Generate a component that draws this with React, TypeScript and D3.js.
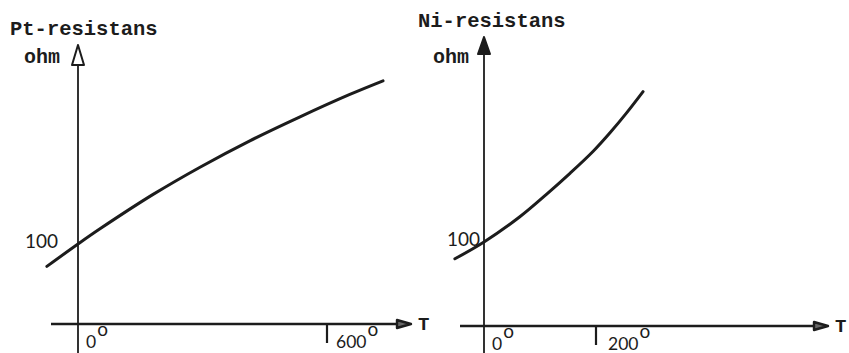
import React from "react";
import * as d3 from "d3";

// Platinum sensor: temperature (°C) and resistance (ohm)
const ptTemps = [-75, 0, 53, 181, 294, 414, 535, 655, 735];
const ptOhms = [72, 100, 119, 162, 196, 229, 259, 287, 304];

// Nickel sensor: temperature (°C) and resistance (ohm)
const niTemps = [-52, 0, 64, 112, 154, 195, 225, 255, 284];
const niOhms = [80, 100, 130, 157, 182, 208, 230, 254, 279];

const ptTicks = [0, 600];
const niTicks = [0, 200];
const ohmTick = 100;

const ptTitle = "Pt-resistans";
const niTitle = "Ni-resistans";
const unitLabel = "ohm";
const axisLabel = "T";

const W = 849;
const H = 353;
const INK = "#1c1c1c";
const MONO = "'Liberation Mono', 'DejaVu Sans Mono', monospace";
const SANS = "Lato, 'Open Sans', sans-serif";

type PanelProps = {
  temps: number[];
  ohms: number[];
  ticks: number[];
  title: string;
  xRange: [number, number];
  xDomain: [number, number];
  yZero: number;
  y100: number;
  axisStart: number;
  arrowTip: number;
  yArrowTip: number;
  yArrowBase: number;
  filledArrow: boolean;
  titleX: number;
  titleY: number;
  unitX: number;
  labelX: number;
  tickLen: number;
  ohmGap: number;
  tickGap: number;
};

function Panel(p: PanelProps) {
  const x = d3.scaleLinear().domain(p.xDomain).range(p.xRange);
  const y = d3.scaleLinear().domain([0, ohmTick]).range([p.yZero, p.y100]);
  const x0 = x(0);
  const pts = p.temps.map((t, i) => [t, p.ohms[i]] as [number, number]);
  const line = d3
    .line<[number, number]>()
    .x((d) => x(d[0]))
    .y((d) => y(d[1]))
    .curve(d3.curveCatmullRom.alpha(0.5));

  const ax = p.yZero;
  const tipX = p.arrowTip;
  const xArrow = `M${tipX},${ax} L${tipX - 14},${ax - 4} L${tipX - 14},${ax + 4} Z`;
  const yArrow = `M${x0},${p.yArrowTip} L${x0 - 6},${p.yArrowBase} L${x0 + 6},${p.yArrowBase} Z`;

  return (
    <g>
      <text x={p.titleX} y={p.titleY} fontFamily={MONO} fontWeight="bold" fontSize={20.5} fill={INK}>
        {p.title}
      </text>
      <text x={p.unitX} y={63} fontFamily={MONO} fontWeight="bold" fontSize={20} fill={INK}>
        {unitLabel}
      </text>

      {/* vertical axis */}
      <line x1={x0} x2={x0} y1={p.yArrowBase} y2={H} stroke={INK} strokeWidth={1.8} />
      <path
        d={yArrow}
        fill={p.filledArrow ? INK : "#fff"}
        stroke={INK}
        strokeWidth={2}
        strokeLinejoin="round"
      />

      {/* horizontal axis */}
      <line x1={p.axisStart} x2={tipX - 12} y1={ax} y2={ax} stroke={INK} strokeWidth={2.4} />
      <path d={xArrow} fill="#666" stroke={INK} strokeWidth={2.4} strokeLinejoin="round" />
      <text x={p.labelX} y={ax + 6} fontFamily={MONO} fontWeight="bold" fontSize={19} fill={INK}>
        {axisLabel}
      </text>

      {/* temperature ticks */}
      {p.ticks.map((t) => (
        <g key={t}>
          {t !== 0 && (
            <line x1={x(t)} x2={x(t)} y1={ax} y2={ax + p.tickLen} stroke={INK} strokeWidth={2.2} />
          )}
          <text x={x(t) + (t === 0 ? 8 : p.tickGap)} y={ax + 24} fontFamily={SANS} fontSize={17.5} fill={INK}>
            {t}
            <tspan fontSize={19} dx={1} dy={-12}>
              o
            </tspan>
          </text>
        </g>
      ))}

      {/* 100 ohm label */}
      <text x={x0 - p.ohmGap} y={y(ohmTick) + 4} textAnchor="end" fontFamily={SANS} fontSize={19} fill={INK}>
        {ohmTick}
      </text>

      <path d={line(pts) ?? ""} fill="none" stroke={INK} strokeWidth={3} strokeLinecap="round" />
    </g>
  );
}

export default function App() {
  return (
    <svg
      width={W}
      height={H}
      viewBox={`0 0 ${W} ${H}`}
      style={{ position: "absolute", left: 0, top: 0, background: "#fff" }}
    >
      <rect width={W} height={H} fill="#fff" />
      <Panel
        temps={ptTemps}
        ohms={ptOhms}
        ticks={ptTicks}
        title={ptTitle}
        xDomain={[0, 600]}
        xRange={[78, 327]}
        yZero={324}
        y100={244}
        axisStart={51}
        arrowTip={411}
        yArrowTip={45}
        yArrowBase={65}
        filledArrow={false}
        titleX={10}
        titleY={35}
        unitX={24}
        labelX={418}
        tickLen={19}
        ohmGap={20}
        tickGap={9}
      />
      <Panel
        temps={niTemps}
        ohms={niOhms}
        ticks={niTicks}
        title={niTitle}
        xDomain={[0, 200]}
        xRange={[484, 596]}
        yZero={326}
        y100={242}
        axisStart={460}
        arrowTip={828}
        yArrowTip={37}
        yArrowBase={54}
        filledArrow={true}
        titleX={418}
        titleY={27}
        unitX={433}
        labelX={835}
        tickLen={19}
        ohmGap={4}
        tickGap={12}
      />
    </svg>
  );
}
